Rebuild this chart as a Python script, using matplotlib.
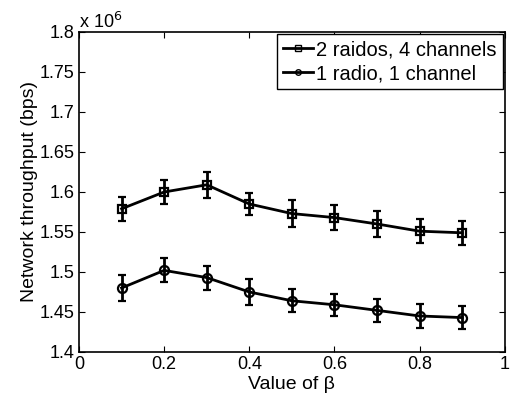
import matplotlib
matplotlib.use("Agg")
import matplotlib.pyplot as plt
from matplotlib.lines import Line2D

plt.rcParams['font.family'] = ['Liberation Sans', 'DejaVu Sans']

# beta values
beta = [0.1, 0.2, 0.3, 0.4, 0.5, 0.6, 0.7, 0.8, 0.9]

# throughput in units of 1e6 bps
multi = [1.579, 1.600, 1.609, 1.585, 1.573, 1.568, 1.560, 1.551, 1.549]
multi_err = [0.015, 0.015, 0.016, 0.014, 0.017, 0.016, 0.016, 0.015, 0.015]
single = [1.480, 1.502, 1.493, 1.475, 1.464, 1.459, 1.452, 1.445, 1.443]
single_err = [0.0165, 0.015, 0.015, 0.0165, 0.0145, 0.014, 0.0145, 0.0145, 0.0143]

fs = 13

fig = plt.figure(figsize=(5.13, 4.03), dpi=100)
ax = fig.add_axes([0.154, 0.1266, 0.83, 0.794])

ax.errorbar(beta, multi, yerr=multi_err, color='k', lw=2, elinewidth=2,
            capsize=3, capthick=2, marker='s', ms=6, mfc='none', mew=1.6)
ax.errorbar(beta, single, yerr=single_err, color='k', lw=2, elinewidth=2,
            capsize=3, capthick=2, marker='o', ms=6.5, mfc='none', mew=1.6)

ax.set_xlim(0, 1)
ax.set_ylim(1.4, 1.8)
ax.set_xticks([0, 0.2, 0.4, 0.6, 0.8, 1])
ax.set_xticklabels(['0', '0.2', '0.4', '0.6', '0.8', '1'])
ax.set_yticks([1.4, 1.45, 1.5, 1.55, 1.6, 1.65, 1.7, 1.75, 1.8])
ax.set_yticklabels(['1.4', '1.45', '1.5', '1.55', '1.6', '1.65', '1.7', '1.75', '1.8'])
ax.tick_params(direction='in', top=True, right=True, labelsize=fs, length=4, width=0.8, pad=3)
for s in ax.spines.values():
    s.set_linewidth(1.2)

ax.set_xlabel('Value of β', fontsize=14, labelpad=2)
ax.set_ylabel('Network throughput (bps)', fontsize=14, labelpad=1)
ax.text(0.0, 1.0, r'x 10$^6$', transform=ax.transAxes, fontsize=fs,
        ha='left', va='bottom')

handles = [Line2D([], [], color='k', lw=2, marker='s', ms=4, mfc='none', mew=1),
           Line2D([], [], color='k', lw=2, marker='o', ms=4, mfc='none', mew=1)]
labels = ['2 raidos, 4 channels', '1 radio, 1 channel']
leg = ax.legend(handles, labels, loc='upper right', fontsize=14.5, handlelength=1.5,
                handletextpad=0.15, borderpad=0.3, labelspacing=0.25, borderaxespad=0.1,
                fancybox=False, edgecolor='k', framealpha=1)
leg.get_frame().set_linewidth(1.0)

fig.savefig('out.png', dpi=100)
